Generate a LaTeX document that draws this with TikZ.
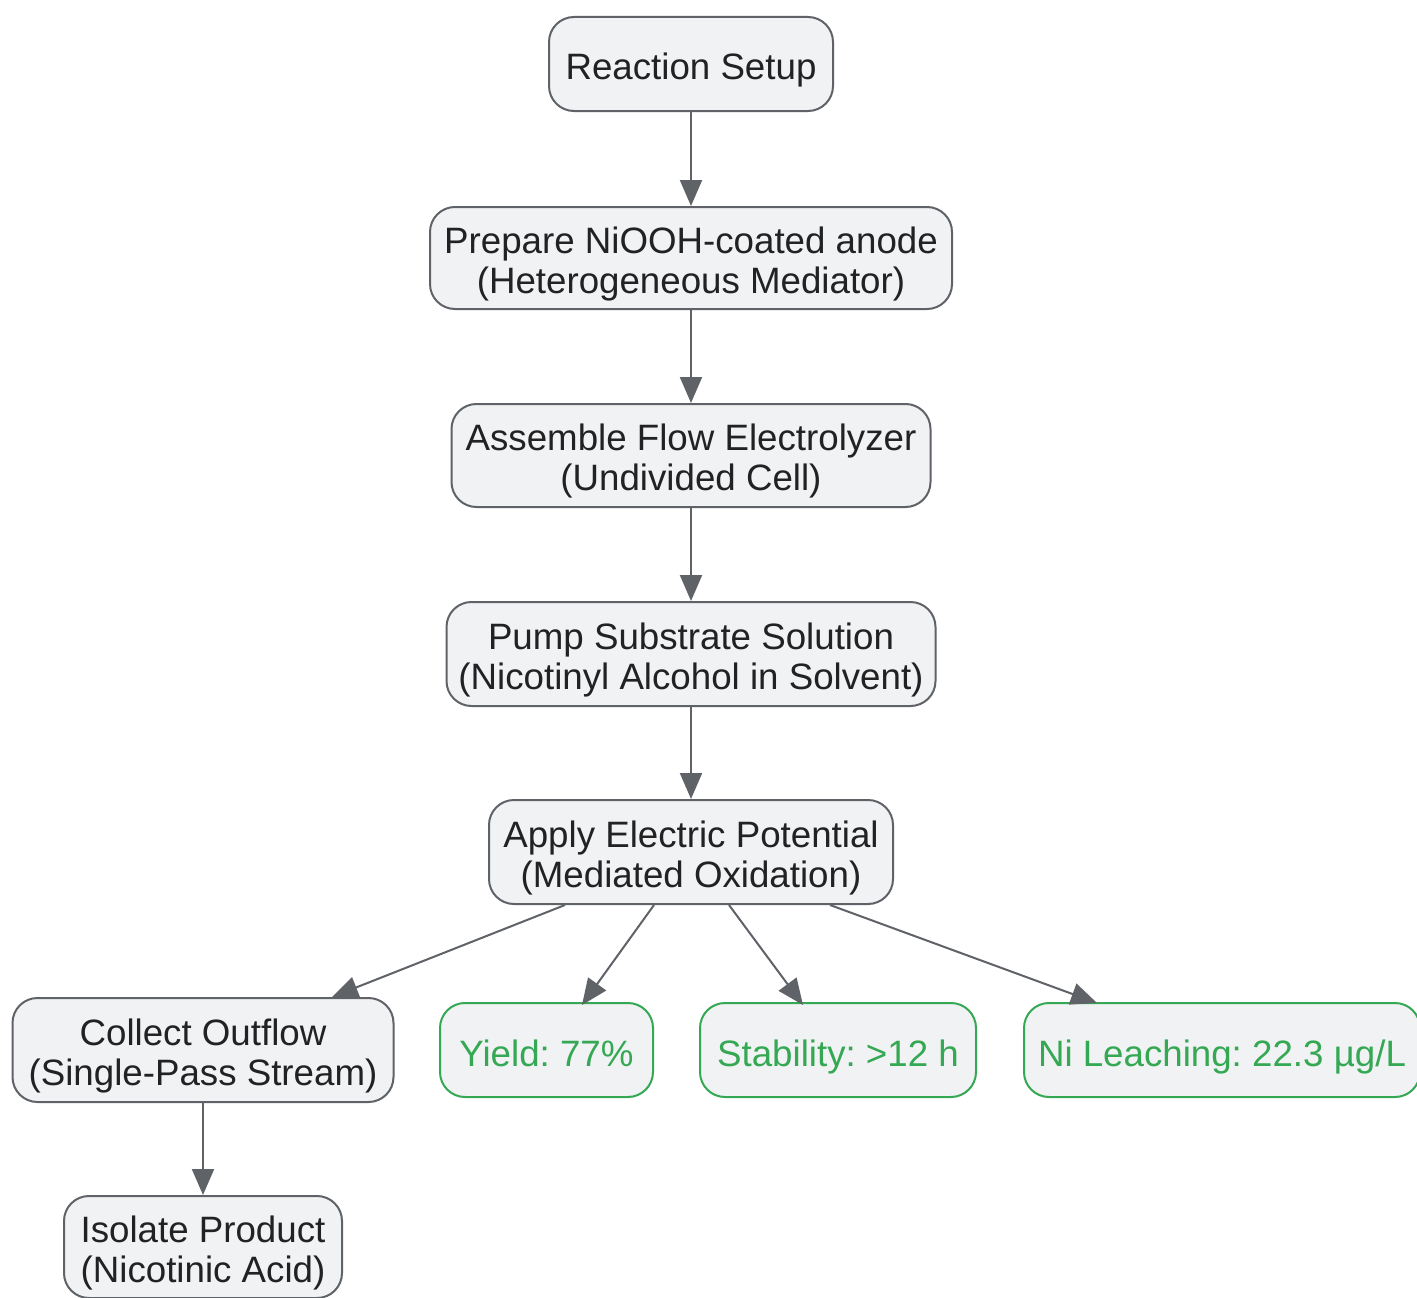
\documentclass[tikz,border=0pt]{standalone}
\usepackage{fontspec}
\setmainfont{Liberation Sans}
\usetikzlibrary{arrows.meta}
\definecolor{fillc}{HTML}{F1F2F4}
\definecolor{linec}{HTML}{5F6368}
\definecolor{txt}{HTML}{222222}
\definecolor{grn}{HTML}{34A853}
\begin{document}
\frenchspacing
\begin{tikzpicture}[x=1pt,y=-1pt,
 box/.style={draw=linec, fill=fillc, line width=2pt, rounded corners=25pt, align=center, text=txt, font=\fontsize{36.7}{40}\selectfont\frenchspacing, inner sep=0pt},
 one/.style={text height=40pt, text depth=8pt},
 two/.style={text height=78pt, text depth=8pt},
 gbox/.style={box, one, draw=grn, text=grn},
 arr/.style={draw=linec, line width=2pt, -{Triangle[length=26pt,width=22pt]}}]
\useasboundingbox (0,0) rectangle (1417,1298);
\fill[white] (0,0) rectangle (1417,1298);
\node[box, one, minimum width=284pt, minimum height=94pt] (setup) at (691,64) {Reaction Setup};
\node[box, two, minimum width=522pt, minimum height=102pt] (prep) at (691,258) {Prepare NiOOH-coated anode\\(Heterogeneous Mediator)};
\node[box, two, minimum width=479pt, minimum height=103pt] (asm) at (691,455.5) {Assemble Flow Electrolyzer\\(Undivided Cell)};
\node[box, two, minimum width=489pt, minimum height=104pt] (pump) at (691,654) {Pump Substrate Solution\\(Nicotinyl Alcohol in Solvent)};
\node[box, two, minimum width=404pt, minimum height=104pt] (apply) at (691,852) {Apply Electric Potential\\(Mediated Oxidation)};
\node[box, two, minimum width=381pt, minimum height=104pt] (coll) at (203,1050) {Collect Outflow\\(Single-Pass Stream)};
\node[gbox, minimum width=213pt, minimum height=94pt] (yield) at (546.5,1050) {Yield: 77\%};
\node[gbox, minimum width=276pt, minimum height=94pt] (stab) at (838,1050) {Stability: >12 h};
\node[gbox, minimum width=396pt, minimum height=94pt] (ni) at (1222,1050) {Ni Leaching: 22.3 µg/L};
\node[box, two, minimum width=278pt, minimum height=102pt] (iso) at (203,1247) {Isolate Product\\(Nicotinic Acid)};
\draw[arr] (setup) -- (prep);
\draw[arr] (prep) -- (asm);
\draw[arr] (asm) -- (pump);
\draw[arr] (pump) -- (apply);
\draw[arr] ([xshift=-126pt]apply.south) -- ([xshift=129pt]coll.north);
\draw[arr] ([xshift=-37pt]apply.south) -- ([xshift=35.5pt,yshift=-3pt]yield.north);
\draw[arr] ([xshift=38pt]apply.south) -- ([xshift=-35pt,yshift=-3pt]stab.north);
\draw[arr] ([xshift=139pt]apply.south) -- ([xshift=-125pt,yshift=-1pt]ni.north);
\draw[arr] (coll) -- (iso);
\end{tikzpicture}
\end{document}
